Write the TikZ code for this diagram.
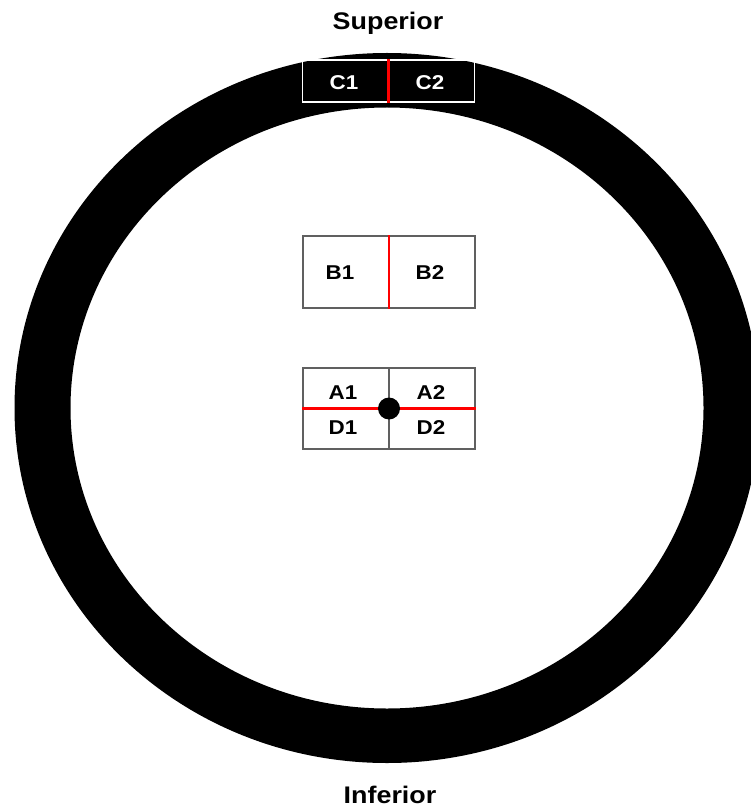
\documentclass[tikz,border=0pt]{standalone}
\usepackage{fontspec}
\setmainfont{Liberation Sans}[FakeStretch=1.12]
\begin{document}
\begin{tikzpicture}[x=1pt, y=-1pt,
    every node/.style={inner sep=0pt, font=\bfseries\fontsize{20}{22}\selectfont},
    zone/.style={draw=gray!75!black, line width=1.2pt, minimum width=172pt},
    cut/.style={red, line width=2.4pt}]
        \useasboundingbox[fill=white] (0,0) rectangle (750,810);
        % lens ring
        \fill[black, even odd rule] (387,408) ellipse [x radius=372.5, y radius=355]
            (387,408) ellipse [x radius=316.5, y radius=300.5];
        \node[font=\bfseries\fontsize{24}{28}\selectfont] (sup) at (388,23) {Superior};
        \node[font=\bfseries\fontsize{24}{28}\selectfont] (inf) at (390,795) {Inferior};
        % zones
        \node[zone, draw=white, minimum height=42pt] (C) at (388.5,81) {};
        \node[zone, minimum height=72pt] (B) at (389,272) {};
        \node[zone, minimum height=81pt] (AD) at (389,408.5) {};
        \draw[zone] (AD.north) -- (AD.south);
        \draw[cut] (C.north) -- (C.south);
        \draw[cut] (B.north) -- (B.south);
        \draw[cut] (AD.west) -- (AD.east);
        \fill[black] (AD.center) circle (11);
        \foreach \n/\x/\y in {C1/344/83,C2/430/83} {
            \node[white] (l\n) at (\x,\y) {\n};
        }
        \foreach \n/\x/\y in {B1/340/273,B2/430/273,A1/343/393,A2/431/393,D1/343/428,D2/431/428} {
            \node (l\n) at (\x,\y) {\n};
        }
    \end{tikzpicture}
\end{document}
